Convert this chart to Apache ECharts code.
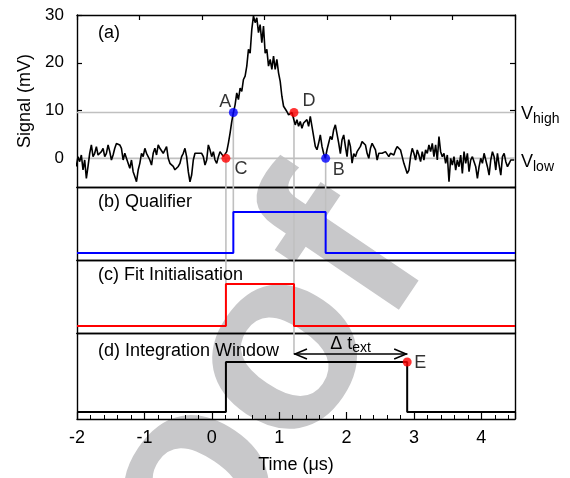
<!DOCTYPE html>
<html><head><meta charset="utf-8">
<script src="https://cdn.jsdelivr.net/npm/echarts@6/dist/echarts.min.js"></script>
<style>html,body{margin:0;padding:0;background:#fff}#c{width:570px;height:478px}</style>
</head><body><div id="c"></div>
<script>
// ---------------- DATA ----------------
const signalStart = -2.01;      // time of first sample (µs)
const signalStep = 0.0248;      // sample spacing (µs)
const signalValues = [
-1.7,0.35,-0.7,0.7,-2.4,-0.35,-4.2,-1.7,1.05,2.8,
0.35,1.05,2.45,0.7,1.05,1.4,2.1,0.35,1.05,2.8,
1.4,-0.35,0.7,2.1,3.1,3.5,2.8,2.1,-0.35,1.05,
1.4,-1.05,-2.1,-0.35,-2.8,-3.8,-4.9,-2.45,-1.05,1.05,
0.35,2.1,1.05,1.4,-0.35,-1.4,1.05,2.1,0.7,2.8,
2.1,2.45,1.05,1.05,2.45,0,-1.05,-1.4,-1.7,-2.4,
-2.1,-1.7,-1.05,0.35,1.05,2.1,0.35,-2.8,-4.9,-3.5,
-0.35,1.05,1.4,1.05,1.4,1.05,0.35,-1.4,-0.35,2.8,
1.75,0.35,1.4,-0.35,-1.05,0.35,1.4,1.05,0.35,0,
1.4,3.2,5.3,7.7,9.6,11.2,13.7,12.3,14.7,14,
16.5,17.2,19.3,22.8,22,27,29.8,28.4,29.4,26.3,
28,24.2,27.7,22,22.8,19.3,20.7,18.6,21.4,18.6,
20.7,17.9,16.1,13,10.9,10.5,9.8,9.1,8.8,9.6,
9.2,7,8.1,6.7,7.7,6.3,7.4,7,8.1,6.7,
8.8,6.7,4.6,2.5,1.8,3.2,4.9,2.5,1,0,
1.8,3.2,4.6,3.9,6,7,6.7,3.2,1,3.9,
4.9,2.5,0.35,3.9,2.5,-1,1,0.35,1.4,1,
2.5,3.5,3.2,
2.8,1.05,0,2.1,3.15,2.45,1.75,-0.35,1.05,1.4,
1.05,0.7,1.4,1.05,0.35,1.05,1.4,0.7,1.75,2.45,
2.8,1.75,0.35,-1.05,-2.1,-3.15,-2.45,0.35,2.1,1.05,
-0.35,1.75,0.7,-0.7,1.4,-0.35,1.75,1.05,2.8,1.4,
3.15,0.35,2.8,-0.35,4.55,1.4,0.35,1.05,-1.05,0.7,
-4.9,0,-1.4,0.35,-2.45,-0.35,-1.75,0.7,-3.15,1.4,
-1.05,1.05,-2.8,-0.35,0.35,-0.7,-1.75,-4.2,-1.75,0,
-1.05,1.05,1.4,-1.75,-3.5,-0.35,1.4,0.35,-2.45,1.05,
-1.4,-3.5,0.35,1.05,-0.7,-1.75,-1.05,-0.35,0,-0.35
];
const qualifierTimes = [-2, 0.32, 0.32, 1.69, 1.69, 4.5];
const qualifierLevels = [0, 0, 1, 1, 0, 0];
const fitTimes = [-2, 0.21, 0.21, 1.22, 1.22, 4.5];
const fitLevels = [0, 0, 1, 1, 0, 0];
const windowTimes = [-2, 0.21, 0.21, 2.9, 2.9, 4.5];
const windowLevels = [0, 0, 1, 1, 0, 0];
const vHigh = 9.6, vLow = 0;
const pointNames = ['A', 'B', 'C', 'D'];
const pointTimes = [0.32, 1.69, 0.21, 1.22];
const pointValues = [9.6, 0, 0, 9.6];
const endName = 'E', endTime = 2.9, endLevel = 1;
const xTickLabels = ['-2', '-1', '0', '1', '2', '3', '4'];
const yTickLabels = ['0', '10', '20', '30'];
const panelTitles = ['(a)', '(b) Qualifier', '(c) Fit Initialisation', '(d) Integration Window'];

// ---------------- LAYOUT / STYLE ----------------
const FONT = '"Liberation Sans", Arial, sans-serif';
const xMin = -2, xMax = 4.5;
const ext = [[-6, 30], [-0.17, 1.61], [-0.167, 1.571], [-0.14, 1.58]];
const grids = [
  {left: 77, right: 55, top: 15, height: 172},
  {left: 77, right: 55, top: 187, height: 73},
  {left: 77, right: 55, top: 260, height: 73},
  {left: 77, right: 55, top: 333, height: 86}
];
const GRAY = '#c0c0c0';
const arrowLevel = 1.16;
const line = (onZero, idx) => {
  const o = {show: true, onZero: onZero, lineStyle: {color: '#000', width: 1.4}};
  if (idx != null) o.onZeroAxisIndex = idx;
  return o;
};
const tick = (len) => ({show: true, inside: true, length: len, lineStyle: {color: '#000', width: 1.2}});
const off = () => ({show: false});
const lbl18 = {fontSize: 18, fontFamily: FONT, color: '#000'};

const chart = echarts.init(document.getElementById('c'), null, {renderer: 'canvas'});

// x axes
const xAxes = [
  // 0: panel a bottom (data axis)
  {gridIndex: 0, type: 'value', position: 'bottom', min: xMin, max: xMax, interval: 1,
   axisLine: line(false), axisTick: off(), axisLabel: off(), splitLine: off()},
  // 1: panel a top with inward ticks (placed at top through helper y axis 2)
  {gridIndex: 0, type: 'value', position: 'top', min: 0, max: 7, interval: 1,
   axisLine: line(true, 2), axisTick: tick(5), axisLabel: off(), splitLine: off()},
  // 2: helper (its zero is the right edge)
  {gridIndex: 0, type: 'value', min: -1, max: 0, show: false},
  // 3,4: panel b bottom/top
  {gridIndex: 1, type: 'value', position: 'bottom', min: xMin, max: xMax, interval: 1,
   axisLine: line(false), axisTick: off(), axisLabel: off(), splitLine: off()},
  {gridIndex: 1, type: 'value', position: 'top', min: xMin, max: xMax, interval: 1,
   axisLine: line(false), axisTick: off(), axisLabel: off(), splitLine: off()},
  // 5,6: panel c bottom/top
  {gridIndex: 2, type: 'value', position: 'bottom', min: xMin, max: xMax, interval: 1,
   axisLine: line(false), axisTick: off(), axisLabel: off(), splitLine: off()},
  {gridIndex: 2, type: 'value', position: 'top', min: xMin, max: xMax, interval: 1,
   axisLine: line(false), axisTick: off(), axisLabel: off(), splitLine: off()},
  // 7: panel d bottom, the time axis (placed at bottom through helper y axis 9)
  {gridIndex: 3, type: 'value', position: 'bottom', min: xMin, max: xMax, interval: 1,
   axisLine: line(true, 9), axisTick: tick(7),
   minorTick: {show: true, splitNumber: 5, length: 4, lineStyle: {color: '#000', width: 1}},
   axisLabel: Object.assign({show: true, margin: 10, showMaxLabel: false,
     formatter: v => xTickLabels.includes(String(v)) ? String(v) : ''}, lbl18),
   splitLine: off(),
   name: 'Time (\u03bcs)', nameLocation: 'middle', nameGap: 37, nameTextStyle: lbl18},
  // 8: panel d top
  {gridIndex: 3, type: 'value', position: 'top', min: xMin, max: xMax, interval: 1,
   axisLine: line(false), axisTick: off(), axisLabel: off(), splitLine: off()}
];
// y axes
const yAxes = [
  // 0: panel a left, signal axis (placed at left through x axis 1 whose zero is the left edge)
  {gridIndex: 0, type: 'value', position: 'left', min: ext[0][0], max: ext[0][1], splitNumber: 4,
   axisLine: line(true, 1), axisTick: tick(5),
   axisLabel: {show: true, fontSize: 17, fontFamily: FONT, color: '#000', margin: 13, showMinLabel: false,
     formatter: v => yTickLabels.includes(String(v)) ? String(v) : ''},
   splitLine: off(),
   name: 'Signal (mV)', nameLocation: 'middle', nameGap: 41, nameRotate: 90, nameTextStyle: lbl18},
  // 1: panel a right (placed at right through helper x axis 2)
  {gridIndex: 0, type: 'value', position: 'right', min: ext[0][0], max: ext[0][1], splitNumber: 4,
   axisLine: line(true, 2), axisTick: tick(5), axisLabel: off(), splitLine: off()},
  // 2: helper (its zero is the top edge)
  {gridIndex: 0, type: 'value', min: -1, max: 0, show: false},
  // 3,4: panel b
  {gridIndex: 1, type: 'value', position: 'left', min: ext[1][0], max: ext[1][1],
   axisLine: line(false), axisTick: off(), axisLabel: off(), splitLine: off()},
  {gridIndex: 1, type: 'value', position: 'right', min: ext[1][0], max: ext[1][1],
   axisLine: line(false), axisTick: off(), axisLabel: off(), splitLine: off()},
  // 5,6: panel c
  {gridIndex: 2, type: 'value', position: 'left', min: ext[2][0], max: ext[2][1],
   axisLine: line(false), axisTick: off(), axisLabel: off(), splitLine: off()},
  {gridIndex: 2, type: 'value', position: 'right', min: ext[2][0], max: ext[2][1],
   axisLine: line(false), axisTick: off(), axisLabel: off(), splitLine: off()},
  // 7,8: panel d
  {gridIndex: 3, type: 'value', position: 'left', min: ext[3][0], max: ext[3][1],
   axisLine: line(false), axisTick: off(), axisLabel: off(), splitLine: off()},
  {gridIndex: 3, type: 'value', position: 'right', min: ext[3][0], max: ext[3][1],
   axisLine: line(false), axisTick: off(), axisLabel: off(), splitLine: off()},
  // 9: helper (its zero is the bottom edge)
  {gridIndex: 3, type: 'value', min: 0, max: 1, show: false}
];
const XI = [0, 3, 5, 7], YI = [0, 3, 5, 7];

function seg(gi, pts, color, width, z) {
  return {type: 'line', xAxisIndex: XI[gi], yAxisIndex: YI[gi], data: pts, showSymbol: false, symbol: 'none',
    silent: true, animation: false, lineStyle: {color: color, width: width}, z: z};
}
const series = [];
// gray reference levels
series.push(seg(0, [[xMin, vHigh], [xMax, vHigh]], GRAY, 1.6, 1));
series.push(seg(0, [[xMin, vLow], [xMax, vLow]], GRAY, 1.6, 1));
// gray vertical guides
const tA = pointTimes[0], tB = pointTimes[1], tC = pointTimes[2], tD = pointTimes[3];
series.push(seg(0, [[tC, pointValues[2]], [tC, ext[0][0]]], GRAY, 1.6, 1));
series.push(seg(1, [[tC, ext[1][1]], [tC, ext[1][0]]], GRAY, 1.6, 1));
series.push(seg(2, [[tC, ext[2][1]], [tC, 1]], GRAY, 1.6, 1));
series.push(seg(0, [[tA, pointValues[0]], [tA, ext[0][0]]], GRAY, 1.6, 1));
series.push(seg(1, [[tA, ext[1][1]], [tA, 1]], GRAY, 1.6, 1));
series.push(seg(0, [[tD, pointValues[3]], [tD, ext[0][0]]], GRAY, 1.6, 1));
series.push(seg(1, [[tD, ext[1][1]], [tD, ext[1][0]]], GRAY, 1.6, 1));
series.push(seg(2, [[tD, ext[2][1]], [tD, ext[2][0]]], GRAY, 1.6, 1));
series.push(seg(3, [[tD, ext[3][1]], [tD, arrowLevel]], GRAY, 1.6, 1));
series.push(seg(0, [[tB, pointValues[1]], [tB, ext[0][0]]], GRAY, 1.6, 1));
series.push(seg(1, [[tB, ext[1][1]], [tB, 1]], GRAY, 1.6, 1));
// signal
series.push(seg(0, signalValues.map((v, i) => [signalStart + i * signalStep, v]), '#000', 1.6, 5));
// logic traces
series.push(seg(1, qualifierTimes.map((t, i) => [t, qualifierLevels[i]]), '#0000ff', 2, 5));
series.push(seg(2, fitTimes.map((t, i) => [t, fitLevels[i]]), '#ff0000', 2, 5));
series.push(seg(3, windowTimes.map((t, i) => [t, windowLevels[i]]), '#000', 2, 5));
// arrow shaft
series.push(seg(3, [[tD, arrowLevel], [endTime, arrowLevel]], '#000', 1.5, 5));
// points A-D
const ptColors = {A: '#0000ff', B: '#0000ff', C: '#ff0000', D: '#ff0000'};
const ptLabelOff = {A: [-8, -10], B: [13, 12], C: [15, 11], D: [15, -11]};
const SS = 9;
series.push({type: 'scatter', xAxisIndex: XI[0], yAxisIndex: YI[0], symbolSize: SS, z: 10, animation: false,
  data: pointNames.map((n, i) => ({name: n, value: [pointTimes[i], pointValues[i]],
    itemStyle: {color: ptColors[n]},
    label: {show: true, formatter: n, position: [ptLabelOff[n][0] + SS / 2, ptLabelOff[n][1] + SS / 2],
      align: 'center', verticalAlign: 'middle', fontSize: 18, fontFamily: FONT, color: '#000'}}))});
series.push({type: 'scatter', xAxisIndex: XI[3], yAxisIndex: YI[3], symbolSize: SS, z: 10, animation: false,
  data: [{name: endName, value: [endTime, endLevel], itemStyle: {color: '#ff0000'},
    label: {show: true, formatter: endName, position: [13 + SS / 2, 1 + SS / 2], align: 'center', verticalAlign: 'middle',
      fontSize: 18, fontFamily: FONT, color: '#000'}}]});

const titleY = [33, 202, 275, 351];
const graphics = [
  {type: 'text', z: -10, x: 186, y: 498, rotation: 56 * Math.PI / 180, silent: true,
   style: {text: 'Proof', font: 'bold 258px "Liberation Sans"', fill: '#c8c8ca', align: 'center', verticalAlign: 'middle'}}
];
panelTitles.forEach((t, i) => graphics.push({type: 'text', x: 98, y: titleY[i], z: 20,
  style: {text: t, font: '18px ' + FONT, fill: '#000', align: 'left', verticalAlign: 'middle'}}));

chart.setOption({
  backgroundColor: '#fff',
  animation: false,
  grid: grids,
  xAxis: xAxes,
  yAxis: yAxes,
  series: series,
  graphic: graphics
});

// annotations positioned through the axes' scales
const px = (gi, p) => chart.convertToPixel({xAxisIndex: XI[gi], yAxisIndex: YI[gi]}, p);
const pHigh = px(0, [xMax, vHigh]);
const pLow = px(0, [xMax, vLow]);
const aL = px(3, [tD, arrowLevel]);
const aR = px(3, [endTime, arrowLevel]);
const rich = {b: {fontSize: 18, fontFamily: FONT, color: '#000'}, s: {fontSize: 14, fontFamily: FONT, color: '#000', padding: [9, 0, 0, 0]}};
graphics.push(
  {type: 'text', x: pHigh[0] + 6, y: pHigh[1] + 2, z: 20, style: {text: '{b|V}{s|high}', rich: rich, align: 'left', verticalAlign: 'middle'}},
  {type: 'text', x: pLow[0] + 6, y: pLow[1] + 4, z: 20, style: {text: '{b|V}{s|low}', rich: rich, align: 'left', verticalAlign: 'middle'}},
  {type: 'text', x: (aL[0] + aR[0]) / 2, y: aL[1] - 10, z: 20, style: {text: '{b|\u0394 t}{s|ext}', rich: rich, align: 'center', verticalAlign: 'middle'}},
  {type: 'polyline', z: 20, shape: {points: [[aL[0] + 13, aL[1] - 5], [aL[0] + 1, aL[1]], [aL[0] + 13, aL[1] + 5]]}, style: {stroke: '#000', lineWidth: 1.5, fill: null}},
  {type: 'polyline', z: 20, shape: {points: [[aR[0] - 13, aR[1] - 5], [aR[0] - 1, aR[1]], [aR[0] - 13, aR[1] + 5]]}, style: {stroke: '#000', lineWidth: 1.5, fill: null}}
);
chart.setOption({graphic: graphics});
</script></body></html>
